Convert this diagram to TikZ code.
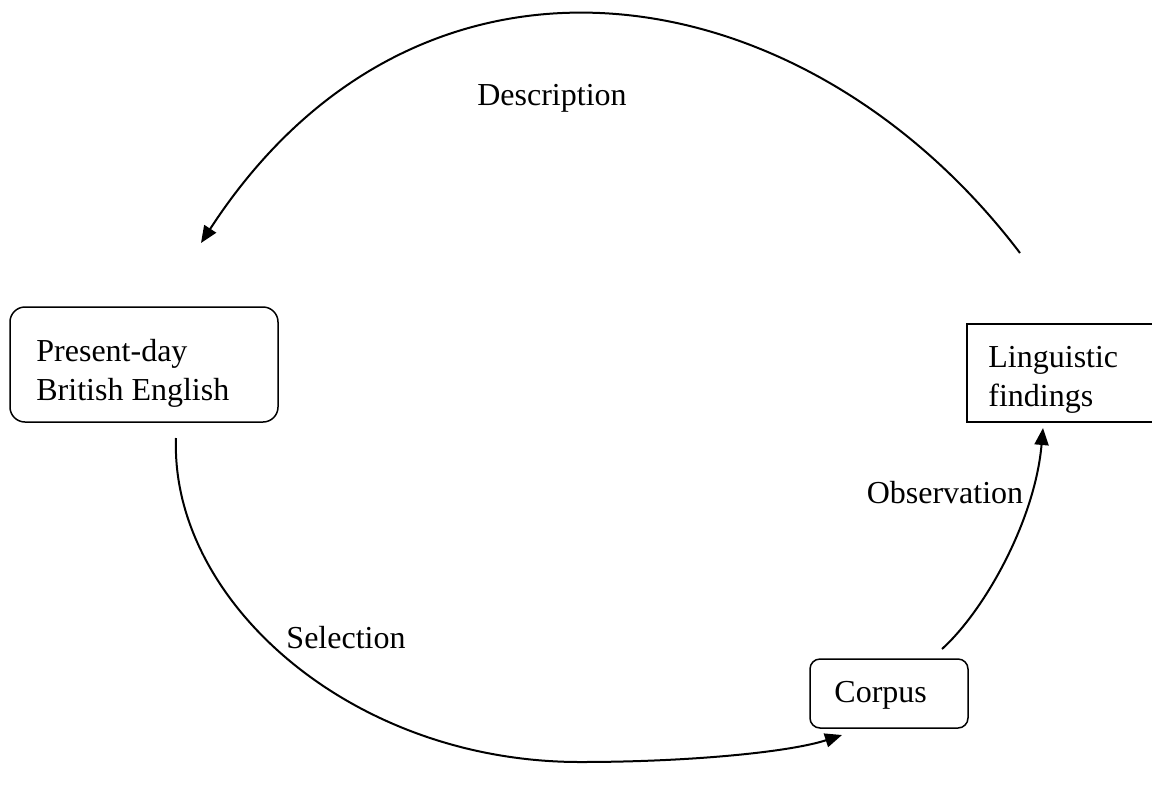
\documentclass[tikz,border=0pt]{standalone}
\usepackage{fontspec}
\setmainfont{Liberation Serif}
\usepackage{tikz}
\usetikzlibrary{arrows.meta,positioning}

\tikzset{
    txt/.style={font=\fontsize{16}{19.5}\selectfont, inner sep=0pt, align=left},
    roundbox/.style={draw, line width=0.75pt, rounded corners=#1, inner sep=0pt},
    plainbox/.style={draw, line width=0.75pt, inner sep=0pt},
    cycle/.style={line width=1pt, -{Triangle[length=8.5pt,width=7pt]}}
}

\begin{document}
\begin{tikzpicture}[x=0.5pt,y=-0.5pt]
    \useasboundingbox (0,0) rectangle (1152,789);

    % the three stages
    \node[roundbox=7.5pt, minimum width=134pt, minimum height=57.5pt] (pbe) at (144,364.5) {};
    \node[txt, anchor=west] (pbetext) at (36,373) {Present-day\\British English};
    \node[plainbox, minimum width=104pt, minimum height=49pt] (findings) at (1071,373) {};
    \node[txt, anchor=west] (findingstext) at (988,380) {Linguistic\\findings};
    \node[roundbox=5pt, minimum width=79pt, minimum height=34.5pt] (corpus) at (889,693.5) {};
    \node[txt, anchor=west] (corpustext) at (834,695) {Corpus};

    % free ends of the arcs
    \coordinate (descstart) at (1020,253);
    \coordinate (descend) at (201,243);
    \coordinate (selstart) at (176,438);
    \coordinate (selend) at (842,735);
    \coordinate (obsstart) at (942,649);
    \coordinate (obsend) at (1043,428);

    \draw[cycle] (descstart) .. controls (805,-30) and (420,-94) .. (descend);
    \draw[cycle] (selstart) .. controls (170,600) and (350,762) .. (580,762) .. controls (690,762) and (790,752) .. (selend);
    \draw[cycle] (obsstart) .. controls (985,610) and (1035,520) .. (obsend);

    % labels
    \node[txt] (desc) at (552,98) {Description};
    \node[txt] (sel) at (346,638) {Selection};
    \node[txt] (obs) at (945,493) {Observation};
\end{tikzpicture}
\end{document}
